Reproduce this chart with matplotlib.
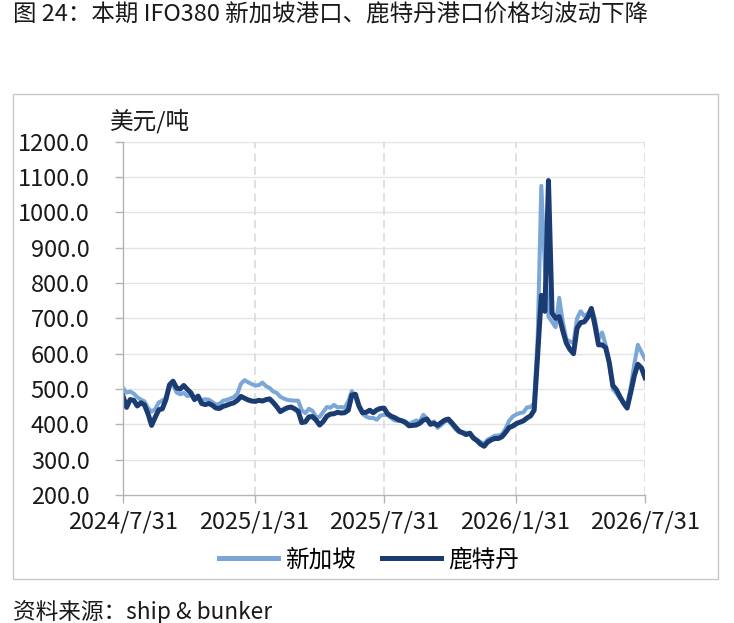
import matplotlib
matplotlib.use("Agg")
import matplotlib.pyplot as plt
from matplotlib.patches import Rectangle
import pandas as pd

plt.rcParams['font.family'] = ['Noto Sans CJK SC', 'DejaVu Sans']

title = "图 24：本期 IFO380 新加坡港口、鹿特丹港口价格均波动下降"
source = "资料来源：ship & bunker"
y_unit = "美元/吨"
series_names = ["新加坡", "鹿特丹"]

# 5-day observations, 2024-07-31 .. 2026-07-31
dates = pd.date_range("2024-07-31", periods=147, freq="5D")

singapore = [
    503, 490, 493, 487, 477, 470, 465, 446, 436, 443,
    462, 467, 475, 505, 512, 490, 485, 489, 480, 482,
    478, 474, 469, 471, 470, 463, 456, 458, 467, 469,
    473, 477, 487, 515, 525, 519, 514, 510, 511, 518,
    508, 503, 493, 489, 478, 473, 469, 468, 467, 467,
    440, 432, 444, 438, 421, 421, 435, 449, 447, 455,
    448, 449, 447, 465, 494, 478, 449, 430, 422, 418,
    418, 413, 425, 427, 426, 418, 411, 410, 410, 408,
    401, 406, 411, 408, 427, 416, 404, 408, 390, 398,
    408, 410, 399, 386, 377, 378, 376, 375, 365, 356,
    350, 345, 357, 362, 368, 368, 372, 388, 410, 422,
    428, 432, 434, 448, 449, 460, 650, 1075, 845, 705,
    690, 675, 758, 690, 640, 635, 630, 700, 720, 707,
    713, 728, 698, 640, 660, 625, 575, 500, 488, 473,
    463, 455, 505, 570, 625, 605, 585,
]

rotterdam = [
    480, 448, 470, 468, 452, 461, 455, 430, 397, 420,
    441, 444, 470, 512, 522, 503, 500, 510, 499, 489,
    470, 480, 459, 456, 459, 454, 446, 445, 451, 454,
    458, 461, 468, 479, 474, 469, 466, 465, 468, 466,
    470, 472, 462, 450, 436, 442, 447, 449, 444, 437,
    405, 407, 421, 422, 412, 398, 408, 423, 429, 430,
    434, 432, 433, 440, 483, 485, 452, 433, 434, 440,
    433, 441, 445, 446, 430, 423, 419, 413, 410, 405,
    396, 397, 398, 403, 412, 415, 400, 403, 397, 405,
    412, 415, 404, 392, 381, 376, 371, 375, 361, 354,
    344, 338, 350, 356, 360, 360, 365, 377, 391, 395,
    402, 406, 410, 418, 424, 440, 600, 765, 720, 1090,
    715, 700, 705, 665, 630, 612, 600, 672, 688, 690,
    703, 728, 680, 625, 625, 617, 575, 510, 498, 478,
    460, 446, 490, 537, 570, 560, 532,
]

x_ticks = ["2024-07-31", "2025-01-31", "2025-07-31", "2026-01-31", "2026-07-31"]
y_ticks = [200, 300, 400, 500, 600, 700, 800, 900, 1000, 1100, 1200]

light = "#7aa7d8"
dark = "#1b3c72"
axis_grey = "#b4b4b4"

fig = plt.figure(figsize=(7.34, 6.23), dpi=100)
W, H = 734, 623

# outer frame
fig.patches.append(Rectangle((13 / W, 1 - 579 / H), (718 - 13) / W, (579 - 94) / H,
                             transform=fig.transFigure, fill=False,
                             edgecolor="#c8c8c8", lw=1.0))

ax = fig.add_axes([123 / W, 1 - 495 / H, 522 / W, 353.3 / H])

ax.plot(dates, singapore, color=light, lw=2.9, label=series_names[0], solid_joinstyle="round")
ax.plot(dates, rotterdam, color=dark, lw=3.6, label=series_names[1], solid_joinstyle="round")

tick_dates = pd.to_datetime(x_ticks)
ax.set_xlim(tick_dates[0], tick_dates[-1])
ax.set_ylim(200, 1200)
ax.set_yticks(y_ticks)
ax.set_yticklabels([f"{v:.1f}" for v in y_ticks])
ax.set_xticks(tick_dates)
ax.set_xticklabels([f"{d.year}/{d.month}/{d.day}" for d in tick_dates])

for v in y_ticks[1:]:
    ax.axhline(v, color="#e4e4e4", lw=1.0, zorder=0)
for d in tick_dates[1:]:
    ax.axvline(d, color="#dadada", lw=1.2, ls=(0, (5, 3)), zorder=0)

for s in ["top", "right"]:
    ax.spines[s].set_visible(False)
for s in ["left", "bottom"]:
    ax.spines[s].set_color(axis_grey)
    ax.spines[s].set_linewidth(1.0)

ax.tick_params(axis="y", direction="out", length=6, width=1, color=axis_grey,
               labelsize=17, pad=18, labelcolor="#1a1a1a")
ax.tick_params(axis="x", direction="out", length=6, width=1, color=axis_grey,
               labelsize=17, pad=5, labelcolor="#1a1a1a")

fig.text(110 / W, 1 - 121.7 / H, y_unit, fontsize=17, ha="left", va="center", color="#1a1a1a")
fig.text(13 / W, 1 - 15 / H, title, fontsize=16.9, ha="left", va="center", color="#1a1a1a")
fig.text(13 / W, 1 - 611.7 / H, source, fontsize=16.3, ha="left", va="center", color="#1a1a1a")

leg = fig.legend(loc="center", bbox_to_anchor=(369 / W, 1 - 560 / H), ncol=2,
                 frameon=False, fontsize=17, handlelength=2.5, handletextpad=0.3,
                 columnspacing=1.1, borderaxespad=0)
for line in leg.get_lines():
    line.set_linewidth(3.6)

fig.savefig("out.png", dpi=100)
